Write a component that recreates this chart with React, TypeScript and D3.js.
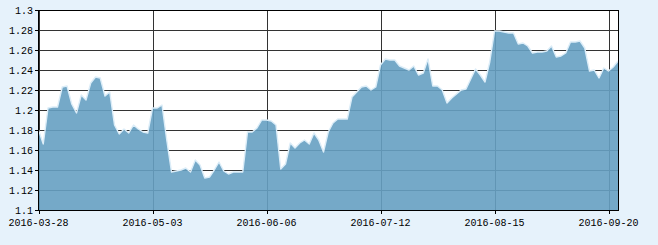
import React from "react";
import * as d3 from "d3";

const dates: string[] = [
  "2016-03-28","2016-03-29","2016-03-30","2016-03-31","2016-04-01",
  "2016-04-05","2016-04-06","2016-04-07","2016-04-08",
  "2016-04-11","2016-04-12","2016-04-13","2016-04-14","2016-04-15",
  "2016-04-18","2016-04-19","2016-04-20","2016-04-21","2016-04-22",
  "2016-04-25","2016-04-26","2016-04-27","2016-04-28","2016-04-29",
  "2016-05-03","2016-05-04","2016-05-05","2016-05-06",
  "2016-05-09","2016-05-10","2016-05-11","2016-05-12","2016-05-13",
  "2016-05-16","2016-05-17","2016-05-18","2016-05-19","2016-05-20",
  "2016-05-23","2016-05-24","2016-05-25","2016-05-26","2016-05-27",
  "2016-05-30","2016-05-31","2016-06-01","2016-06-02","2016-06-03",
  "2016-06-06","2016-06-07","2016-06-08",
  "2016-06-13","2016-06-14","2016-06-15","2016-06-16","2016-06-17",
  "2016-06-20","2016-06-21","2016-06-22","2016-06-23","2016-06-24",
  "2016-06-27","2016-06-28","2016-06-29","2016-06-30","2016-07-01",
  "2016-07-04","2016-07-05","2016-07-06","2016-07-07","2016-07-08",
  "2016-07-11","2016-07-12","2016-07-13","2016-07-14","2016-07-15",
  "2016-07-18","2016-07-19","2016-07-20","2016-07-21","2016-07-22",
  "2016-07-25","2016-07-26","2016-07-27","2016-07-28","2016-07-29",
  "2016-08-01","2016-08-02","2016-08-03","2016-08-04","2016-08-05",
  "2016-08-08","2016-08-09","2016-08-10","2016-08-11","2016-08-12",
  "2016-08-15","2016-08-16","2016-08-17","2016-08-18","2016-08-19",
  "2016-08-22","2016-08-23","2016-08-24","2016-08-25","2016-08-26",
  "2016-08-29","2016-08-30","2016-08-31","2016-09-01","2016-09-02",
  "2016-09-05","2016-09-06","2016-09-07","2016-09-08","2016-09-09",
  "2016-09-12","2016-09-13","2016-09-14",
  "2016-09-19","2016-09-20","2016-09-21","2016-09-22",
];

const values: number[] = [
  1.180,1.166,1.202,1.203,1.203,1.223,1.224,1.206,1.197,1.215,
  1.210,1.227,1.233,1.232,1.214,1.218,1.185,1.176,1.181,1.177,
  1.185,1.181,1.178,1.177,1.202,1.202,1.205,1.170,1.138,1.139,
  1.140,1.142,1.138,1.150,1.145,1.132,1.133,1.140,1.148,1.139,
  1.136,1.138,1.138,1.138,1.178,1.178,1.182,1.190,1.190,1.189,
  1.185,1.141,1.146,1.167,1.162,1.167,1.170,1.166,1.177,1.170,
  1.158,1.178,1.187,1.191,1.191,1.191,1.213,1.218,1.223,1.224,
  1.220,1.223,1.245,1.251,1.250,1.250,1.244,1.242,1.240,1.244,
  1.235,1.237,1.251,1.224,1.224,1.220,1.207,1.212,1.216,1.220,
  1.221,1.231,1.241,1.235,1.228,1.248,1.279,1.279,1.278,1.277,
  1.277,1.266,1.267,1.264,1.257,1.258,1.258,1.259,1.264,1.253,
  1.254,1.257,1.268,1.268,1.269,1.262,1.239,1.240,1.232,1.242,
  1.239,1.243,1.249,
];

const xTickLabels: string[] = ["2016-03-28","2016-05-03","2016-06-06","2016-07-12","2016-08-15","2016-09-20"];
const yTicks: number[] = [1.1,1.12,1.14,1.16,1.18,1.2,1.22,1.24,1.26,1.28,1.3];

export default function App() {
  const W = 658, H = 245;
  const left = 38.5, right = 618, top = 10, bottom = 210;
  const x = d3.scaleLinear().domain([0, values.length - 1]).range([left, right]);
  const y = d3.scaleLinear().domain([1.1, 1.3]).range([bottom, top]);
  const area = d3.area<number>().x((_, i) => x(i)).y0(y(1.1)).y1((d) => y(d));
  const line = d3.line<number>().x((_, i) => x(i)).y((d) => y(d));
  const font = "'Liberation Mono', 'DejaVu Sans Mono', monospace";
  const tickIdx = xTickLabels.map((l) => dates.indexOf(l));
  const fmt = (v: number) => String(+v.toFixed(2));
  return (
    <svg width={W} height={H} style={{ position: "absolute", left: 0, top: 0, display: "block" }}>
      <rect x={0} y={0} width={W} height={H} fill="#e6f2fb" />
      <rect x={left} y={top} width={right - left} height={bottom - top} fill="#ffffff" />
      <g shapeRendering="crispEdges" stroke="#333" strokeWidth={1}>
        {yTicks.map((t) => (
          <line key={"h" + t} x1={left} x2={right} y1={Math.round(y(t)) + 0.5} y2={Math.round(y(t)) + 0.5} />
        ))}
        {tickIdx.map((i) => (
          <line key={"v" + i} x1={Math.round(x(i)) + 0.5} x2={Math.round(x(i)) + 0.5} y1={top} y2={bottom} />
        ))}
      </g>
      <path d={area(values) || ""} fill="#66a0c2" fillOpacity={0.9} />
      <path d={line(values) || ""} fill="none" stroke="#dcedf8" strokeWidth={1.4} strokeLinejoin="round" />
      <g shapeRendering="crispEdges" stroke="#000" strokeWidth={1}>
        <rect x={left} y={top + 0.5} width={right - left} height={bottom - top} fill="none" />
        {yTicks.map((t) => (
          <line key={"yt" + t} x1={left - 4} x2={left} y1={Math.round(y(t)) + 0.5} y2={Math.round(y(t)) + 0.5} />
        ))}
        {tickIdx.map((i) => (
          <line key={"xt" + i} x1={Math.round(x(i)) + 0.5} x2={Math.round(x(i)) + 0.5} y1={bottom} y2={bottom + 4} />
        ))}
      </g>
      <g fontFamily={font} fontSize={10} fill="#000">
        {yTicks.map((t) => (
          <text key={"yl" + t} x={33} y={y(t)} dy="0.35em" textAnchor="end">{fmt(t)}</text>
        ))}
        {tickIdx.map((i, k) => (
          <text key={"xl" + i} x={x(i)} y={222} dy="0.35em" textAnchor="middle">{xTickLabels[k]}</text>
        ))}
      </g>
    </svg>
  );
}
